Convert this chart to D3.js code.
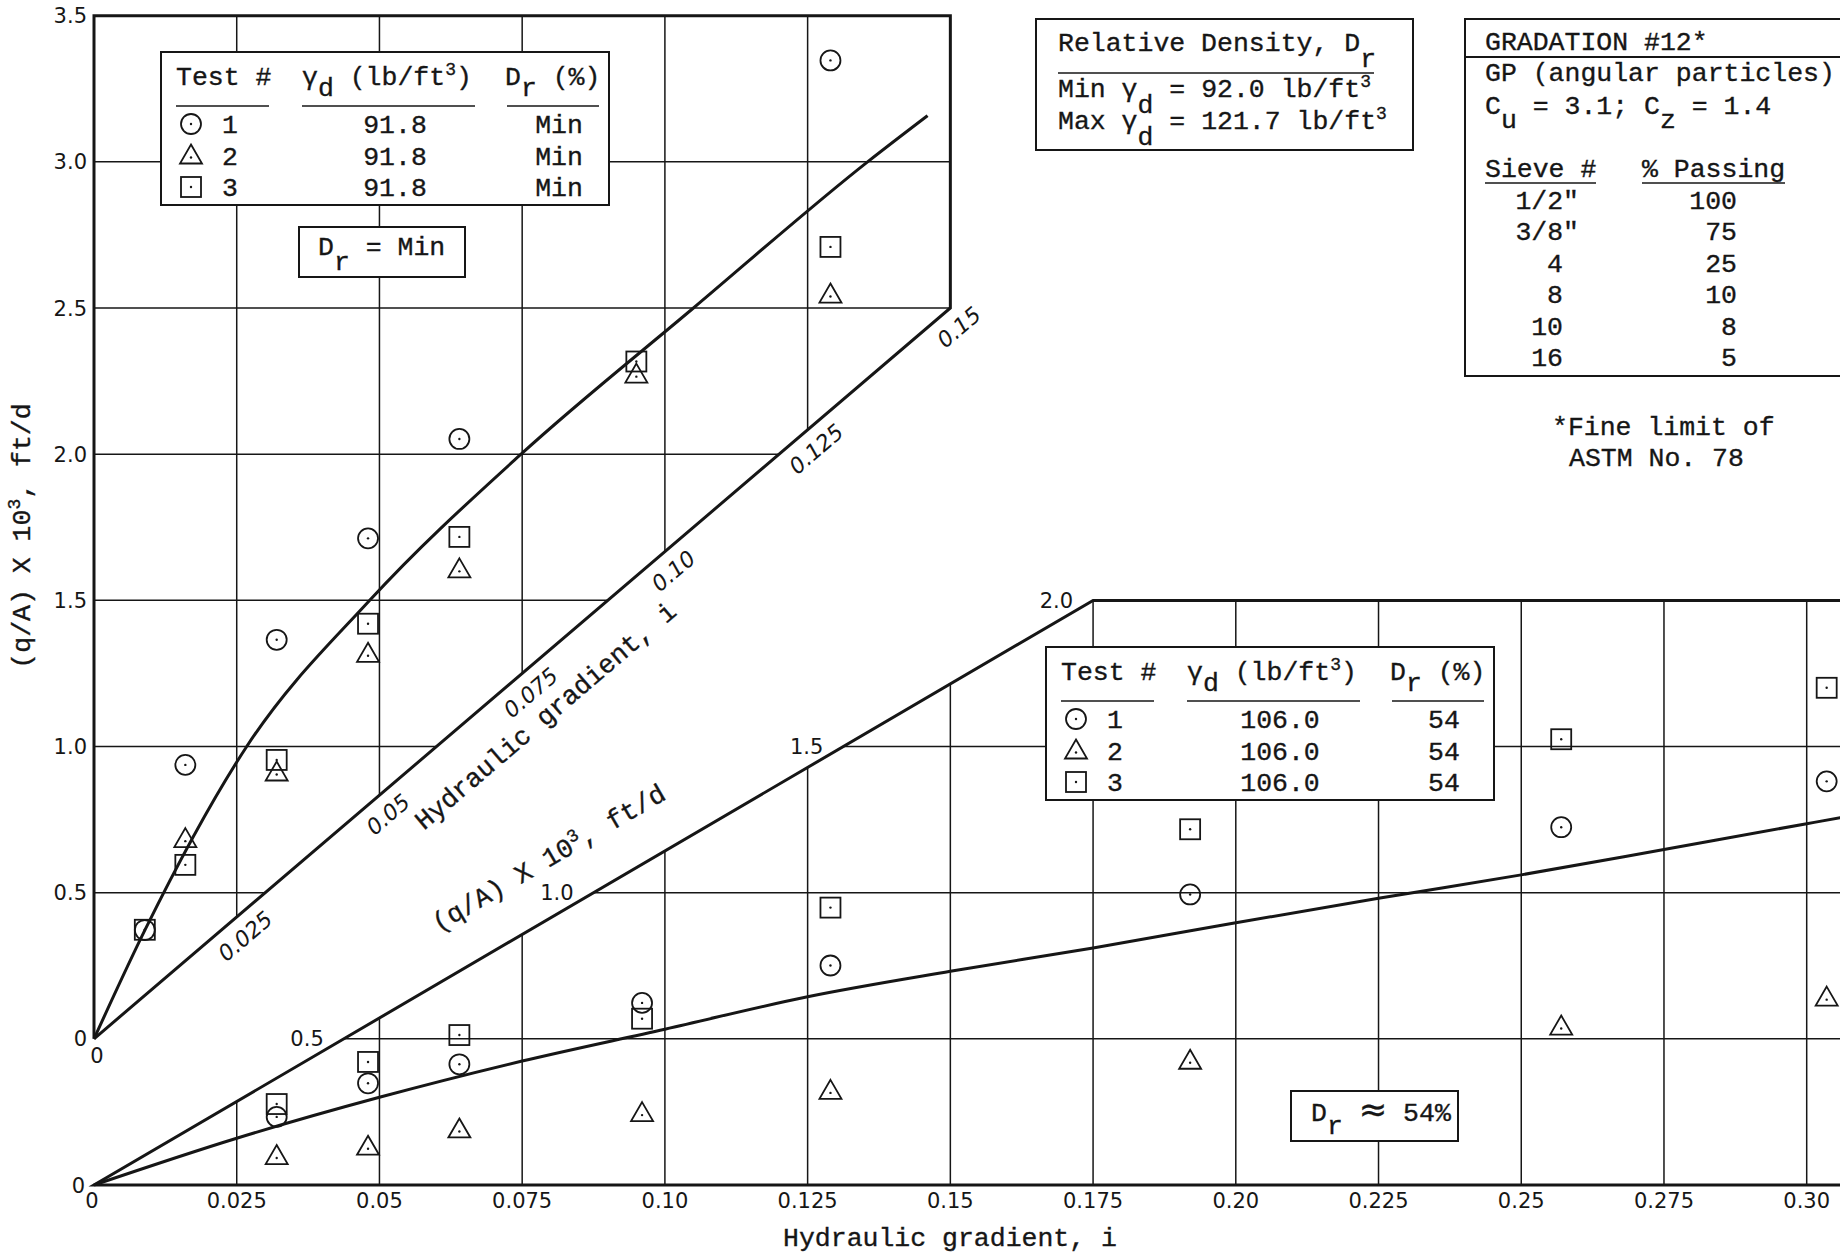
<!DOCTYPE html>
<html>
<head>
<meta charset="utf-8">
<script src="https://cdn.jsdelivr.net/npm/d3@7/dist/d3.min.js"></script>
<style>
    body { margin: 0; background: #fff; }
    svg { display: block; }
    .tw { font-family: "Liberation Mono", "DejaVu Sans Mono", monospace; font-size: 26.5px; fill: #161616; stroke: #161616; stroke-width: 0.35px; }
    .tick { font-family: "DejaVu Sans", "Liberation Sans", sans-serif; font-size: 21px; fill: #161616; }
</style>
</head>
<body>
<div class="canvas"></div>
<script>
// gradient ticks shared by both plots
const gradTicks = [0, 0.025, 0.05, 0.075, 0.10, 0.125, 0.15, 0.175, 0.20, 0.225, 0.25, 0.275, 0.30];
const gradLabels = ['0', '0.025', '0.05', '0.075', '0.10', '0.125', '0.15', '0.175', '0.20', '0.225', '0.25', '0.275', '0.30'];
const minQTicks = [0, 0.5, 1.0, 1.5, 2.0, 2.5, 3.0, 3.5];
const minQLabels = ['0', '0.5', '1.0', '1.5', '2.0', '2.5', '3.0', '3.5'];
const midQTicks = [0.5, 1.0, 1.5, 2.0];
const midQLabels = ['0.5', '1.0', '1.5', '2.0'];

// Dr = Min (upper plot)
const minGrad  = [0.0089, 0.016, 0.032, 0.048, 0.064, 0.095, 0.129];
const minTest1 = [0.372, 0.937, 1.365, 1.712, 2.052, null, 3.347];
const minTest2 = [null, 0.683, 0.911, 1.317, 1.606, 2.272, 2.546];
const minTest3 = [0.373, 0.595, 0.954, 1.420, 1.717, 2.317, 2.709];
const minFitGrad = [0, 0.009, 0.02675, 0.0483, 0.0748, 0.105, 0.1355, 0.146];
const minFitQ    = [0, 0.375, 1.0, 1.5, 2.0, 2.5, 3.0, 3.158];

// Dr ~ 54% (lower plot)
const midGrad  = [0.032, 0.048, 0.064, 0.096, 0.129, 0.192, 0.257, 0.3035];
const midTest1 = [0.233, 0.348, 0.413, 0.623, 0.751, 0.994, 1.224, 1.381];
const midTest2 = [0.099, 0.131, 0.190, 0.246, 0.322, 0.425, 0.542, 0.641];
const midTest3 = [0.277, 0.421, 0.513, 0.569, 0.949, 1.217, 1.525, 1.701];
const midFitGrad = [0, 0.025, 0.05, 0.075, 0.10, 0.125, 0.15, 0.175, 0.20, 0.225, 0.25, 0.275, 0.30, 0.306];
const midFitQ    = [0, 0.16, 0.30, 0.424, 0.533, 0.644, 0.731, 0.811, 0.897, 0.981, 1.061, 1.148, 1.236, 1.257];

// gradation table
const sieves  = ['1/2"', '3/8"', '4', '8', '10', '16'];
const passing = [100, 75, 25, 10, 8, 5];

const dims = { width: 1840, height: 1253 };
const ink = '#161616';

const svg = d3.select('.canvas')
    .append('svg')
    .attr('width', dims.width)
    .attr('height', dims.height);

svg.append('rect').attr('width', dims.width).attr('height', dims.height).attr('fill', '#fff');

// scales: both plots share the gradient axis, q axes offset by one grid step
const x = d3.scaleLinear().domain([0, 0.30]).range([94, 1806.7]);
const yMin = d3.scaleLinear().domain([0, 3.5]).range([1038.8, 15.7]);
const yMid = d3.scaleLinear().domain([0, 2.0]).range([1185, 600.4]);
const iMax = x.invert(dims.width);

// slanted axes: upper gradient axis ends at (0.15, 2.5), lower q axis ends at (0.175, 2.0)
const minEnd = [0.15, 2.5];
const midEnd = [0.175, 2.0];
const minSlope = minEnd[1] / minEnd[0];
const midSlope = midEnd[1] / midEnd[0];

const grid = svg.append('g').attr('stroke', ink).attr('stroke-width', 1.5);

// upper grid
gradTicks.filter(i => i > 0 && i < minEnd[0]).forEach(i => {
    grid.append('line')
        .attr('x1', x(i)).attr('x2', x(i))
        .attr('y1', yMin(3.5)).attr('y2', yMin(i * minSlope));
});
minQTicks.filter(q => q > 0 && q < 3.5).forEach(q => {
    grid.append('line')
        .attr('x1', x(0)).attr('x2', x(Math.min(minEnd[0], q / minSlope)))
        .attr('y1', yMin(q)).attr('y2', yMin(q));
});

// lower grid
gradTicks.filter(i => i > 0).forEach(i => {
    grid.append('line')
        .attr('x1', x(i)).attr('x2', x(i))
        .attr('y1', yMid(0)).attr('y2', yMid(Math.min(midEnd[1], i * midSlope)));
});
midQTicks.filter(q => q < midEnd[1]).forEach(q => {
    grid.append('line')
        .attr('x1', x(q / midSlope)).attr('x2', x(iMax))
        .attr('y1', yMid(q)).attr('y2', yMid(q));
});

// heavy frame lines
const frame = svg.append('g').attr('fill', 'none').attr('stroke', ink).attr('stroke-width', 3);
frame.append('path').attr('d', d3.line()([
    [x(0), yMin(0)], [x(0), yMin(3.5)], [x(minEnd[0]), yMin(3.5)],
    [x(minEnd[0]), yMin(minEnd[1])], [x(0), yMin(0)]
]));
frame.append('path').attr('d', d3.line()([
    [x(iMax), yMid(0)], [x(0), yMid(0)], [x(midEnd[0]), yMid(midEnd[1])], [x(iMax), yMid(midEnd[1])]
]));

// fitted curves
const minLine = d3.line().x(d => x(d[0])).y(d => yMin(d[1])).curve(d3.curveMonotoneX);
const midLine = d3.line().x(d => x(d[0])).y(d => yMid(d[1])).curve(d3.curveCatmullRom.alpha(0.5));
frame.append('path').attr('d', minLine(minFitGrad.map((g, k) => [g, minFitQ[k]])));
frame.append('path').attr('d', midLine(midFitGrad.map((g, k) => [g, midFitQ[k]])));

// text helper: segments of [text, shift, size, family]
const typed = (parent, px, py, segs, anchor) => {
    const t = parent.append('text').attr('class', 'tw').attr('x', px).attr('y', py)
        .attr('text-anchor', anchor || 'start');
    let prev = 0;
    segs.forEach(s => {
        const sp = t.append('tspan').attr('dy', (s[1] || 0) - prev).text(s[0]);
        if (s[2]) sp.attr('font-size', s[2]);
        if (s[3]) sp.attr('font-family', s[3]);
        prev = s[1] || 0;
    });
    return t;
};

// data markers
const drawMarker = (g, type, cx, cy) => {
    if (type === 1) {
        g.append('circle').attr('cx', cx).attr('cy', cy).attr('r', 10);
    } else if (type === 2) {
        g.append('path').attr('d', `M${cx},${cy - 11}L${cx + 11},${cy + 8}L${cx - 11},${cy + 8}Z`);
    } else {
        g.append('rect').attr('x', cx - 10).attr('y', cy - 10).attr('width', 20).attr('height', 20);
    }
    g.append('circle').attr('cx', cx).attr('cy', type === 2 ? cy + 2 : cy).attr('r', 1.2)
        .attr('fill', ink).attr('stroke', 'none');
};

// legend tables
const legendTable = (ox, oy, gamma, dr) => {
    const g = svg.append('g').attr('transform', `translate(${ox},${oy})`);
    g.append('rect').attr('width', 448).attr('height', 153)
        .attr('fill', '#fff').attr('stroke', ink).attr('stroke-width', 2);
    typed(g, 15, 33, [['Test #']]);
    typed(g, 141, 33, [['γ'], ['d', 11], [' (lb/ft', 0], ['3', -10, '18px'], [')', 0]]);
    typed(g, 344, 33, [['D'], ['r', 11], [' (%)', 0]]);
    [[15, 108], [141, 314], [346, 438]].forEach(u => {
        g.append('line').attr('x1', u[0]).attr('x2', u[1]).attr('y1', 54).attr('y2', 54)
            .attr('stroke', ink).attr('stroke-width', 1.6);
    });
    const mk = g.append('g').attr('fill', 'none').attr('stroke', ink).attr('stroke-width', 1.8);
    [1, 2, 3].forEach((t, k) => {
        const cy = 72 + k * 31.5;
        drawMarker(mk, t, 30, cy);
        typed(g, 69, cy + 9, [[String(t)]], 'middle');
        typed(g, 234, cy + 9, [[gamma]], 'middle');
        typed(g, 398, cy + 9, [[dr]], 'middle');
    });
};

// small boxes behind text
const box = (bx, by, bw, bh) => svg.append('rect')
    .attr('x', bx).attr('y', by).attr('width', bw).attr('height', bh)
    .attr('fill', '#fff').attr('stroke', ink).attr('stroke-width', 2);

legendTable(161, 52, '91.8', 'Min');
legendTable(1046, 647, '106.0', '54');

box(299, 227, 166, 50);
typed(svg, 318, 255, [['D'], ['r', 15], [' = Min', 0]]);

box(1291, 1091, 167, 50);
typed(svg, 1311, 1121, [['D'], ['r', 13], [' ', 0], ['≈', 0, '34px', 'DejaVu Sans'], [' 54%', 0]]);

// relative density box
box(1036, 19, 377, 131);
typed(svg, 1058, 51, [['Relative Density, D'], ['r', 16]]);
svg.append('line').attr('x1', 1058).attr('x2', 1374).attr('y1', 73).attr('y2', 73)
    .attr('stroke', ink).attr('stroke-width', 1.6);
typed(svg, 1058, 97, [['Min γ'], ['d', 16], [' =  92.0 lb/ft', 0], ['3', -10, '18px']]);
typed(svg, 1058, 129, [['Max γ'], ['d', 16], [' = 121.7 lb/ft', 0], ['3', -10, '18px']]);

// gradation box
box(1465, 19, 400, 357);
svg.append('line').attr('x1', 1465).attr('x2', dims.width).attr('y1', 57).attr('y2', 57)
    .attr('stroke', ink).attr('stroke-width', 2);
typed(svg, 1485, 50, [['GRADATION #12*']]);
typed(svg, 1485, 81, [['GP (angular particles)']]);
typed(svg, 1485, 114, [['C'], ['u', 14], [' = 3.1; C', 0], ['z', 14], [' = 1.4', 0]]);
typed(svg, 1485, 177, [['Sieve #']]);
typed(svg, 1642, 177, [['% Passing']]);
[[1485, 1596], [1642, 1785]].forEach(u => {
    svg.append('line').attr('x1', u[0]).attr('x2', u[1]).attr('y1', 183).attr('y2', 183)
        .attr('stroke', ink).attr('stroke-width', 1.6);
});
sieves.forEach((s, k) => {
    const by = 209 + k * 31.4;
    typed(svg, s.endsWith('"') ? 1579 : 1563, by, [[s]], 'end');
    typed(svg, 1737, by, [[String(passing[k])]], 'end');
});
typed(svg, 1552, 435, [['*Fine limit of']]);
typed(svg, 1569, 466, [['ASTM No. 78']]);

// data points
const pts = svg.append('g').attr('fill', 'none').attr('stroke', ink).attr('stroke-width', 1.8);
[minTest1, minTest2, minTest3].forEach((arr, t) => {
    arr.forEach((q, k) => { if (q !== null) drawMarker(pts, t + 1, x(minGrad[k]), yMin(q)); });
});
[midTest1, midTest2, midTest3].forEach((arr, t) => {
    arr.forEach((q, k) => { if (q !== null) drawMarker(pts, t + 1, x(midGrad[k]), yMid(q)); });
});

// tick labels
const ticks = svg.append('g').attr('class', 'tick');
gradTicks.forEach((i, k) => {
    ticks.append('text').attr('x', x(i) - (i === 0 ? 2 : 0)).attr('y', 1208)
        .attr('text-anchor', 'middle').text(gradLabels[k]);
});
minQTicks.forEach((q, k) => {
    ticks.append('text').attr('x', 87).attr('y', yMin(q)).attr('dy', '0.36em')
        .attr('text-anchor', 'end').text(minQLabels[k]);
});
ticks.append('text').attr('x', 85).attr('y', yMid(0)).attr('dy', '0.36em')
    .attr('text-anchor', 'end').text('0');
ticks.append('text').attr('x', x(0) + 3).attr('y', 1063).attr('text-anchor', 'middle').text('0');

// labels along the lower slanted q axis
midQTicks.forEach((q, k) => {
    ticks.append('text').attr('x', x(q / midSlope) - 20).attr('y', yMid(q)).attr('dy', '0.36em')
        .attr('text-anchor', 'end').text(midQLabels[k]);
});

// labels along the upper slanted gradient axis
const minAngle = Math.atan2(yMin(minEnd[1]) - yMin(0), x(minEnd[0]) - x(0));
const dirU = [Math.cos(minAngle), Math.sin(minAngle)];
const nrmU = [-dirU[1], dirU[0]];
gradTicks.filter(i => i > 0 && i <= minEnd[0]).forEach(i => {
    const k = gradTicks.indexOf(i);
    const px = x(i) + nrmU[0] * 20 - dirU[0] * 6;
    const py = yMin(i * minSlope) + nrmU[1] * 20 - dirU[1] * 6;
    ticks.append('text')
        .attr('transform', `translate(${px},${py}) rotate(${minAngle * 180 / Math.PI})`)
        .attr('dy', '0.36em').attr('text-anchor', 'middle').attr('font-size', '22px')
        .attr('font-style', 'italic').text(gradLabels[k]);
});

// slanted axis titles
const placeAlong = (scaleY, slope, gi, off, angle) => {
    const n = [-Math.sin(angle), Math.cos(angle)];
    return [x(gi) + n[0] * off, scaleY(gi * slope) + n[1] * off];
};
const pU = placeAlong(yMin, minSlope, 0.0737, 56, minAngle);
typed(svg, 0, 0, [['Hydraulic gradient, i']], 'middle')
    .attr('transform', `translate(${pU[0]},${pU[1]}) rotate(${minAngle * 180 / Math.PI})`)
    .attr('dy', '0.3em');

const midAngle = Math.atan2(yMid(midEnd[1]) - yMid(0), x(midEnd[0]) - x(0));
const pL = placeAlong(yMid, midSlope, 0.0849, -51, midAngle);
typed(svg, 0, 0, [['(q/A) X 10'], ['3', -10, '18px'], [', ft/d', 0]], 'middle')
    .attr('transform', `translate(${pL[0]},${pL[1] + 8}) rotate(${midAngle * 180 / Math.PI})`);

// main axis titles
typed(svg, 0, 0, [['(q/A) X 10'], ['3', -10, '18px'], [', ft/d', 0]], 'middle')
    .attr('transform', 'translate(30,536) rotate(-90)');
typed(svg, 950, 1246, [['Hydraulic gradient, i']], 'middle');
</script>
</body>
</html>
